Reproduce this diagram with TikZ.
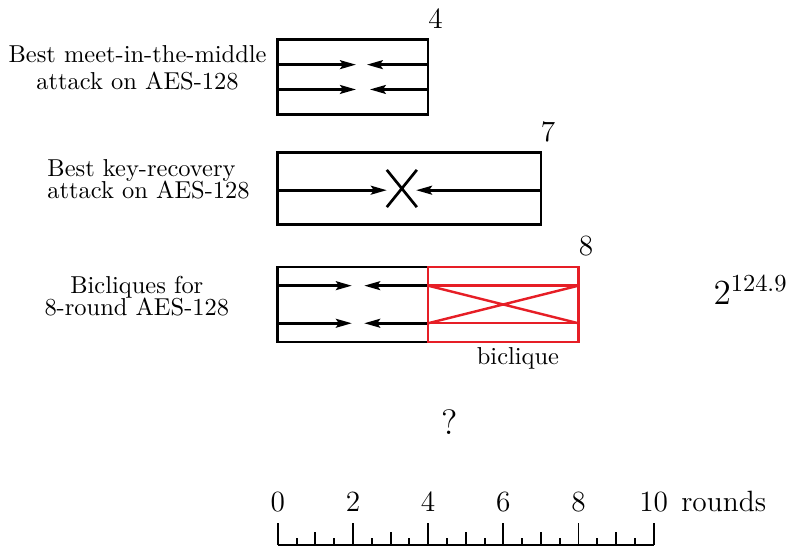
\documentclass[tikz,border=0pt]{standalone}
\usepackage{xcolor}
\usepackage{tikz}
\usetikzlibrary{positioning, arrows.meta}

\definecolor{bicred}{RGB}{230,30,38}

\begin{document}
\begin{tikzpicture}[
    x=0.54cm, y=0.54cm,
    frame/.style={draw, line width=1.1pt},
    redframe/.style={draw=bicred, line width=1pt},
    arr/.style={-{Stealth[length=6.5pt, width=3.6pt, inset=1.2pt]}, line width=1.1pt},
    num/.style={font=\large, anchor=base, inner sep=0pt},
    lbl/.style={align=center, inner sep=0pt},
    rulertick/.style={line width=0.8pt}
  ]
  \useasboundingbox (-7.39,-0.03) rectangle (13.76,14.5);

  % meet-in-the-middle
  \draw[frame] (0,11.45) rectangle (4,13.45);
  \coordinate (mAw) at (0,12.78);   \coordinate (mAm) at (2.08,12.78);
  \coordinate (mAe) at (4,12.78);   \coordinate (mAn) at (2.37,12.78);
  \coordinate (mBw) at (0,12.12);   \coordinate (mBm) at (2.08,12.12);
  \coordinate (mBe) at (4,12.12);   \coordinate (mBn) at (2.45,12.12);
  \draw[arr] (mAw) -- (mAm);
  \draw[arr] (mAe) -- (mAn);
  \draw[arr] (mBw) -- (mBm);
  \draw[arr] (mBe) -- (mBn);
  \node[num] (n4) at (4.2,13.75) {4};
  \node[lbl] (mitm) at (-3.73,12.70) {Best meet-in-the-middle\\[-1pt] attack on AES-128};

  % key recovery
  \draw[frame] (0,8.53) rectangle (7,10.44);
  \coordinate (kw) at (0,9.44);     \coordinate (km) at (2.9,9.44);
  \coordinate (ke) at (7,9.44);     \coordinate (kn) at (3.68,9.44);
  \draw[arr] (kw) -- (km);
  \draw[arr] (ke) -- (kn);
  \draw[line width=1.1pt] (2.9,9.98) -- (3.7,8.99) (3.7,9.98) -- (2.9,8.99);
  \node[num] (n7) at (7.19,10.74) {7};
  \node[lbl, align=left, anchor=west] (keyrec) at (-6.14,9.73) {Best key-recovery\\[-3pt] attack on AES-128};

  % bicliques
  \draw[frame] (0,5.40) rectangle (4,7.40);
  \coordinate (bAw) at (0,6.90);    \coordinate (bAm) at (1.97,6.90);
  \coordinate (bAe) at (4,6.90);    \coordinate (bAn) at (2.3,6.90);
  \coordinate (bBw) at (0,5.90);    \coordinate (bBm) at (1.97,5.90);
  \coordinate (bBe) at (4,5.90);    \coordinate (bBn) at (2.3,5.90);
  \draw[arr] (bAw) -- (bAm);
  \draw[arr] (bAe) -- (bAn);
  \draw[arr] (bBw) -- (bBm);
  \draw[arr] (bBe) -- (bBn);
  \draw[redframe] (4,5.40) rectangle (8,7.40);
  \coordinate (rA) at (8,6.90);
  \coordinate (rB) at (8,5.90);
  \draw[redframe] (bAe) -- (rA) (bBe) -- (rB);
  \draw[redframe] (bAe) -- (rB) (bBe) -- (rA);
  \node[num] (n8) at (8.2,7.71) {8};
  \node[anchor=base, inner sep=0pt] (bicl) at (6.39,4.79) {biclique};
  \node[lbl] (biclq) at (-3.75,6.63) {Bicliques for\\[-3pt] 8-round AES-128};
  \node[font=\Large, anchor=base west, inner sep=0pt] (cplx) at (11.58,6.4) {$2^{124.9}$};

  \node[font=\Large] (unk) at (4.56,3.27) {?};

  % scale
  \draw[rulertick] (0,0) -- (10,0);
  \foreach \i in {0,2,...,10} {
    \draw[rulertick] (\i,0) -- (\i,0.58);
    \node[num] (t\i) at (\i,0.886) {\i};
  }
  \foreach \i in {1,3,...,9}
    \draw[rulertick] (\i,0) -- (\i,0.35);
  \foreach \i in {0.5,1.5,...,9.5}
    \draw[rulertick] (\i,0) -- (\i,0.18);
  \node[num, base right=5pt of t10] (rnd) {rounds};
\end{tikzpicture}
\end{document}
